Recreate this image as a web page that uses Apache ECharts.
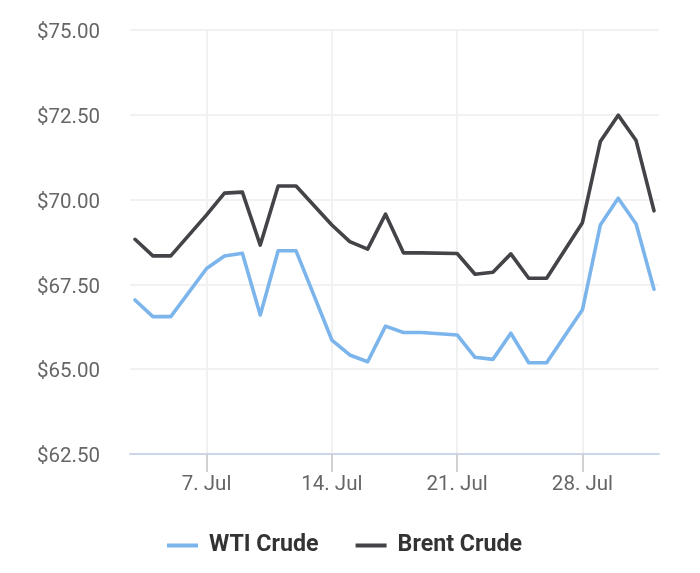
<!DOCTYPE html>
<html>
<head>
<meta charset="utf-8">
<script src="https://cdn.jsdelivr.net/npm/echarts@6/dist/echarts.min.js"></script>
<style>
  html, body { margin: 0; padding: 0; background: #ffffff; }
  #chart { width: 700px; height: 573px; }
</style>
</head>
<body>
<div id="chart"></div>
<script>
// ---- data ----
const dates = [
  '2025-07-03','2025-07-04','2025-07-05','2025-07-07','2025-07-08','2025-07-09',
  '2025-07-10','2025-07-11','2025-07-12','2025-07-14','2025-07-15','2025-07-16',
  '2025-07-17','2025-07-18','2025-07-19','2025-07-21','2025-07-22','2025-07-23',
  '2025-07-24','2025-07-25','2025-07-26','2025-07-28','2025-07-29','2025-07-30',
  '2025-07-31','2025-08-01'
];
const wti = [
  67.04, 66.55, 66.55, 67.97, 68.34, 68.42,
  66.60, 68.49, 68.49, 65.86, 65.42, 65.22,
  66.27, 66.08, 66.08, 66.01, 65.35, 65.29,
  66.06, 65.19, 65.19, 66.75, 69.25, 70.04,
  69.28, 67.36
];
const brent = [
  68.83, 68.34, 68.34, 69.55, 70.19, 70.22,
  68.66, 70.40, 70.40, 69.25, 68.76, 68.54,
  69.57, 68.43, 68.43, 68.41, 67.80, 67.86,
  68.40, 67.68, 67.68, 69.32, 71.71, 72.49,
  71.74, 69.67
];
const tickDates = ['2025-07-07', '2025-07-14', '2025-07-21', '2025-07-28'];
const yTicks = { min: 62.5, max: 75, step: 2.5 };
const seriesNames = ['WTI Crude', 'Brent Crude'];

// ---- build ----
const DAY = 86400000;
const ts = d => Date.parse(d + 'T00:00:00Z');
const xs = dates.map(ts);
const tickTs = tickDates.map(ts);
const pad = 0.279 * DAY;
const xMin = xs[0] - pad;
const xMax = xs[xs.length - 1] + pad;
const MONTHS = ['Jan','Feb','Mar','Apr','May','Jun','Jul','Aug','Sep','Oct','Nov','Dec'];
const fmtDate = v => { const d = new Date(v); return d.getUTCDate() + '. ' + MONTHS[d.getUTCMonth()]; };

const chart = echarts.init(document.getElementById('chart'), null, { renderer: 'canvas' });
chart.setOption({
  animation: false,
  backgroundColor: '#ffffff',
  textStyle: { fontFamily: 'Roboto' },
  grid: { left: 130, right: 41, top: 30, bottom: 119, containLabel: false },
  legend: {
    left: 162, top: 529,
    itemWidth: 31, itemHeight: 4, itemGap: 37,
    icon: 'rect',
    textStyle: { fontFamily: 'Roboto', fontSize: 23.2, fontWeight: 'bold', color: '#333333', padding: [0, 0, 0, 6] },
    data: seriesNames
  },
  xAxis: {
    type: 'value',
    min: xMin, max: xMax,
    axisLine: { show: true, lineStyle: { color: '#ccd6eb', width: 2 } },
    axisTick: { show: true, length: 18, customValues: tickTs, lineStyle: { color: '#cccccc', width: 1.8 } },
    axisLabel: { customValues: tickTs, formatter: fmtDate, margin: 20, fontSize: 20.5, color: '#666666', fontFamily: 'Roboto' },
    splitLine: { show: true, lineStyle: { color: '#f1f1f1', width: 2 } }
  },
  yAxis: {
    type: 'value',
    min: yTicks.min, max: yTicks.max, interval: yTicks.step,
    axisLine: { show: false },
    axisTick: { show: false },
    axisLabel: {
      formatter: v => '{a|$' + v.toFixed(2) + '}',
      margin: 30,
      rich: { a: { fontSize: 20.5, color: '#666666', fontFamily: 'Roboto', padding: [6, 0, 0, 0] } }
    },
    splitLine: { show: true, lineStyle: { color: '#f1f1f1', width: 2 } }
  },
  series: [
    {
      name: seriesNames[0], type: 'line', showSymbol: false, symbol: 'none',
      color: '#7cb5ec',
      lineStyle: { width: 3.6, color: '#7cb5ec', join: 'round', cap: 'round' },
      data: xs.map((x, i) => [x, wti[i]])
    },
    {
      name: seriesNames[1], type: 'line', showSymbol: false, symbol: 'none',
      color: '#434348',
      lineStyle: { width: 3.6, color: '#434348', join: 'round', cap: 'round' },
      data: xs.map((x, i) => [x, brent[i]])
    }
  ]
});
</script>
</body>
</html>
